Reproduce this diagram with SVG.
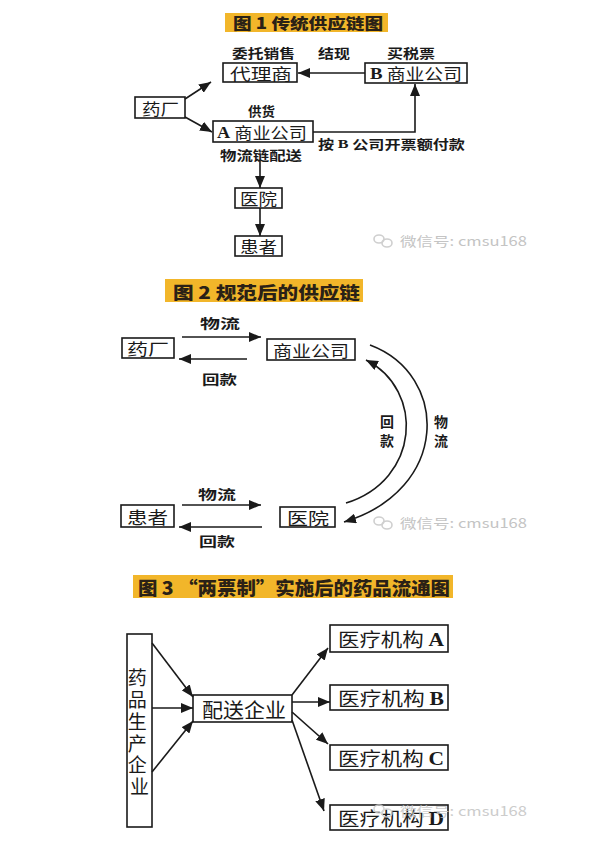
<svg xmlns="http://www.w3.org/2000/svg" width="593" height="841" viewBox="0 0 593 841">
<style>
.bx{fill:#fff;stroke:#1a1a1a;stroke-width:1.6}
.ln{fill:none;stroke:#1a1a1a;stroke-width:1.6}
.t{font-family:"Noto Sans CJK SC","Noto Sans",sans-serif;fill:#1a1a1a;dominant-baseline:central}
.lb{font-family:"Noto Sans CJK SC","Noto Sans",sans-serif;fill:#1a1a1a;font-weight:bold;dominant-baseline:central}
.ti{font-family:"Noto Sans CJK SC","Noto Sans",sans-serif;fill:#2a2116;font-weight:900;dominant-baseline:central}
.ttl{fill:#f2b62a}
.lat{font-family:"Liberation Serif",serif;font-weight:bold}
.wm{font-family:"Noto Sans CJK SC","Noto Sans",sans-serif;fill:#c4c4c4;dominant-baseline:central}
.wmi{fill:none;stroke:#cfcfcf;stroke-width:1.6}
</style>
<defs>
<marker id="ah" markerUnits="userSpaceOnUse" markerWidth="12" markerHeight="10" refX="12" refY="5" orient="auto">
<path d="M0,0 L12,5 L0,10 z" fill="#1a1a1a"/>
</marker>
</defs>
<rect width="593" height="841" fill="#fff"/>

<!-- Figure 1 -->
<g id="fig1-title">
<rect class="ttl" x="225" y="13" width="163" height="19"/>
<text class="ti" x="233" y="22.5" font-size="15" textLength="150" lengthAdjust="spacingAndGlyphs">图 1  传统供应链图</text>
</g>
<g id="fig1-labels">
<text class="lb" x="232" y="52" font-size="13" textLength="63" lengthAdjust="spacingAndGlyphs">委托销售</text>
<text class="lb" x="318" y="52" font-size="13" textLength="32" lengthAdjust="spacingAndGlyphs">结现</text>
<text class="lb" x="387" y="52" font-size="13" textLength="48" lengthAdjust="spacingAndGlyphs">买税票</text>
<text class="lb" x="248" y="110" font-size="13" textLength="27" lengthAdjust="spacingAndGlyphs">供货</text>
<text class="lb" x="220" y="154" font-size="13" textLength="82" lengthAdjust="spacingAndGlyphs">物流链配送</text>
<text class="lb" x="318" y="143" font-size="13" textLength="147" lengthAdjust="spacingAndGlyphs">按 <tspan class="lat">B</tspan> 公司开票额付款</text>
</g>
<g id="dl">
<rect class="bx" x="223" y="63" width="74" height="19"/>
<text class="t" x="230" y="72.5" font-size="16" textLength="62" lengthAdjust="spacingAndGlyphs">代理商</text>
</g>
<g id="yc1">
<rect class="bx" x="135" y="97" width="50" height="21"/>
<text class="t" x="142" y="107.5" font-size="16" textLength="37" lengthAdjust="spacingAndGlyphs">药厂</text>
</g>
<g id="a-co">
<rect class="bx" x="213" y="121" width="100" height="21"/>
<text class="t" x="217" y="131.5" font-size="16" textLength="90" lengthAdjust="spacingAndGlyphs"><tspan class="lat">A</tspan> 商业公司</text>
</g>
<g id="b-co">
<rect class="bx" x="365" y="63" width="102" height="20"/>
<text class="t" x="370" y="73" font-size="16" textLength="92" lengthAdjust="spacingAndGlyphs"><tspan class="lat">B</tspan> 商业公司</text>
</g>
<g id="yy1">
<rect class="bx" x="235" y="188" width="47" height="20"/>
<text class="t" x="240" y="198" font-size="16" textLength="37" lengthAdjust="spacingAndGlyphs">医院</text>
</g>
<g id="hz1">
<rect class="bx" x="235" y="236" width="47" height="20"/>
<text class="t" x="240" y="246" font-size="16" textLength="37" lengthAdjust="spacingAndGlyphs">患者</text>
</g>
<g id="fig1-connectors">
<line class="ln" x1="185" y1="99" x2="211" y2="82" marker-end="url(#ah)"/>
<line class="ln" x1="185" y1="117" x2="212" y2="132" marker-end="url(#ah)"/>
<line class="ln" x1="365" y1="73" x2="298" y2="73" marker-end="url(#ah)"/>
<polyline class="ln" points="313,132 415,132 415,84" marker-end="url(#ah)"/>
<line class="ln" x1="260" y1="161" x2="260" y2="188" marker-end="url(#ah)"/>
<line class="ln" x1="260" y1="208" x2="260" y2="236" marker-end="url(#ah)"/>
</g>

<!-- Watermark 1 -->
<g id="wm1">
<ellipse class="wmi" cx="379" cy="239" rx="5" ry="4"/>
<ellipse class="wmi" cx="387" cy="243" rx="5" ry="4"/>
<text class="wm" x="400" y="240" font-size="13" textLength="127" lengthAdjust="spacingAndGlyphs">微信号: cmsu168</text>
</g>

<!-- Figure 2 -->
<g id="fig2-title">
<rect class="ttl" x="165" y="279" width="198" height="23"/>
<text class="ti" x="173" y="291" font-size="17" textLength="187" lengthAdjust="spacingAndGlyphs">图 2  规范后的供应链</text>
</g>
<g id="yc2">
<rect class="bx" x="122" y="338" width="52" height="20"/>
<text class="t" x="127" y="348" font-size="16" textLength="42" lengthAdjust="spacingAndGlyphs">药厂</text>
</g>
<g id="sy2">
<rect class="bx" x="267" y="339" width="88" height="21"/>
<text class="t" x="273" y="349.5" font-size="16" textLength="76" lengthAdjust="spacingAndGlyphs">商业公司</text>
</g>
<g id="hz2">
<rect class="bx" x="121" y="505" width="53" height="22"/>
<text class="t" x="127" y="516" font-size="17" textLength="41" lengthAdjust="spacingAndGlyphs">患者</text>
</g>
<g id="yy2">
<rect class="bx" x="280" y="507" width="55" height="20"/>
<text class="t" x="287" y="517" font-size="17" textLength="42" lengthAdjust="spacingAndGlyphs">医院</text>
</g>
<g id="fig2-labels">
<text class="lb" x="200" y="322" font-size="13" textLength="40" lengthAdjust="spacingAndGlyphs">物流</text>
<text class="lb" x="202" y="378" font-size="13" textLength="35" lengthAdjust="spacingAndGlyphs">回款</text>
<text class="lb" x="198" y="493" font-size="13" textLength="38" lengthAdjust="spacingAndGlyphs">物流</text>
<text class="lb" x="199" y="540" font-size="13" textLength="36" lengthAdjust="spacingAndGlyphs">回款</text>
<text class="lb" x="387" y="421" font-size="14" text-anchor="middle">回</text>
<text class="lb" x="387" y="440" font-size="14" text-anchor="middle">款</text>
<text class="lb" x="441" y="421" font-size="14" text-anchor="middle">物</text>
<text class="lb" x="441" y="440" font-size="14" text-anchor="middle">流</text>
</g>
<g id="fig2-connectors">
<line class="ln" x1="182" y1="337" x2="261" y2="337" marker-end="url(#ah)"/>
<line class="ln" x1="247" y1="359" x2="179" y2="359" marker-end="url(#ah)"/>
<line class="ln" x1="182" y1="505" x2="261" y2="505" marker-end="url(#ah)"/>
<line class="ln" x1="262" y1="527" x2="179" y2="527" marker-end="url(#ah)"/>
<path class="ln" d="M370,345 C450,375 450,490 344,522" marker-end="url(#ah)"/>
<path class="ln" d="M346,503 C420,480 425,390 366,360" marker-end="url(#ah)"/>
</g>

<!-- Watermark 2 -->
<g id="wm2">
<ellipse class="wmi" cx="379" cy="521" rx="5" ry="4"/>
<ellipse class="wmi" cx="387" cy="525" rx="5" ry="4"/>
<text class="wm" x="400" y="522" font-size="13" textLength="127" lengthAdjust="spacingAndGlyphs">微信号: cmsu168</text>
</g>

<!-- Figure 3 -->
<g id="fig3-title">
<rect class="ttl" x="133" y="575" width="320" height="23"/>
<text class="ti" x="138" y="587" font-size="18" textLength="312" lengthAdjust="spacingAndGlyphs">图 3 “两票制”实施后的药品流通图</text>
</g>
<g id="scqy">
<rect class="bx" x="127" y="634" width="25" height="193"/>
<text class="t" font-size="19" text-anchor="middle">
<tspan x="139.5" y="676">药</tspan>
<tspan x="139.5" y="698">品</tspan>
<tspan x="139.5" y="720">生</tspan>
<tspan x="139.5" y="742">产</tspan>
<tspan x="139.5" y="763">企</tspan>
<tspan x="139.5" y="785">业</tspan>
</text>
</g>
<g id="psqy">
<rect class="bx" x="193" y="695" width="99" height="27"/>
<text class="t" x="202" y="709" font-size="20" textLength="84" lengthAdjust="spacingAndGlyphs">配送企业</text>
</g>
<g id="jg-a">
<rect class="bx" x="330" y="625" width="118" height="27"/>
<text class="t" x="338" y="638.5" font-size="19" textLength="106" lengthAdjust="spacingAndGlyphs">医疗机构 <tspan class="lat">A</tspan></text>
</g>
<g id="jg-b">
<rect class="bx" x="330" y="685" width="118" height="25"/>
<text class="t" x="338" y="697.5" font-size="19" textLength="106" lengthAdjust="spacingAndGlyphs">医疗机构 <tspan class="lat">B</tspan></text>
</g>
<g id="jg-c">
<rect class="bx" x="330" y="745" width="118" height="25"/>
<text class="t" x="338" y="757.5" font-size="19" textLength="106" lengthAdjust="spacingAndGlyphs">医疗机构 <tspan class="lat">C</tspan></text>
</g>
<g id="jg-d">
<rect class="bx" x="330" y="805" width="118" height="25"/>
<text class="t" x="338" y="817.5" font-size="19" textLength="106" lengthAdjust="spacingAndGlyphs">医疗机构 <tspan class="lat">D</tspan></text>
</g>
<g id="fig3-connectors">
<line class="ln" x1="152" y1="643" x2="193" y2="697" marker-end="url(#ah)"/>
<line class="ln" x1="152" y1="708" x2="193" y2="708" marker-end="url(#ah)"/>
<line class="ln" x1="152" y1="772" x2="193" y2="721" marker-end="url(#ah)"/>
<line class="ln" x1="292" y1="695" x2="328" y2="648" marker-end="url(#ah)"/>
<line class="ln" x1="292" y1="702" x2="330" y2="702" marker-end="url(#ah)"/>
<line class="ln" x1="292" y1="712" x2="328" y2="744" marker-end="url(#ah)"/>
<line class="ln" x1="292" y1="720" x2="324" y2="811" marker-end="url(#ah)"/>
</g>

<!-- Watermark 3 -->
<g id="wm3" opacity="0.85">
<ellipse class="wmi" cx="379" cy="809" rx="5" ry="4"/>
<ellipse class="wmi" cx="387" cy="813" rx="5" ry="4"/>
<text class="wm" x="400" y="810" font-size="13" textLength="127" lengthAdjust="spacingAndGlyphs">微信号: cmsu168</text>
</g>
</svg>
